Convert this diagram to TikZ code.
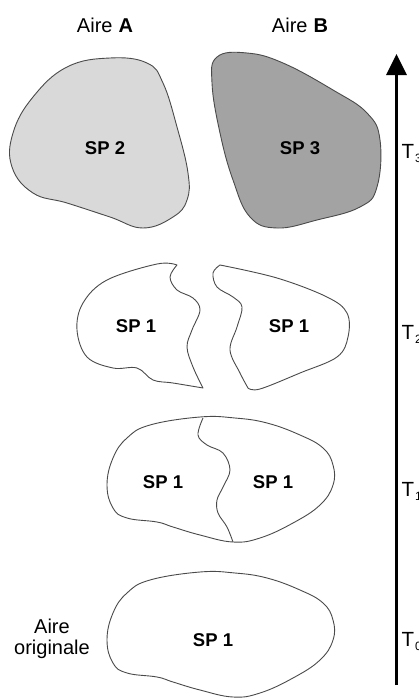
\documentclass[tikz,border=0pt]{standalone}
\usepackage{fontspec}
\setmainfont{Liberation Sans}
\usetikzlibrary{arrows.meta}
\definecolor{lightfill}{HTML}{D9D9D9}
\definecolor{darkfill}{HTML}{A3A3A3}
\definecolor{outline}{HTML}{4A4A4A}
\tikzset{
  blob/.style={draw=outline, line width=0.9pt, line join=round},
  lbl/.style={font=\fontsize{20}{23}\selectfont, inner sep=0pt},
  splbl/.style={font=\fontsize{18.5}{22}\selectfont\bfseries, inner sep=0pt},
  tlbl/.style={font=\fontsize{20.5}{23}\selectfont, inner sep=0pt, anchor=base west},
  axis/.style={line width=3pt, -{Triangle[width=20pt,length=21pt]}}
}
\newcommand{\tsub}[1]{\kern1pt\raisebox{-4pt}{\fontsize{12}{14}\selectfont #1}}
\begin{document}
\begin{tikzpicture}[x=1pt,y=-1pt]
\useasboundingbox (0,0) rectangle (419,699);
\clip (0,0) rectangle (419,699);
\fill[white] (0,0) rectangle (419,699);

% headers
\node[lbl] (hA) at (105,25) {Aire\kern6pt\textbf{A}};
\node[lbl] (hB) at (300,25) {Aire\kern6pt\textbf{B}};

% T3 blobs
\draw[blob, fill=lightfill] plot[smooth cycle, tension=0.7] coordinates {
 (110,58) (147,63) (163,83) (177,127) (188,173) (187,200) (173,217)
 (143,228) (110,217) (67,203) (33,193) (12,167) (13,133) (33,97) (67,67)};
\draw[blob, fill=darkfill] plot[smooth cycle, tension=0.7] coordinates {
 (217,57) (247,53) (283,63) (333,90) (367,113) (380,140) (377,187)
 (360,207) (317,220) (277,228) (250,217) (233,180) (220,133) (212,83)};
\node[splbl] (sp2) at (105,148) {SP 2};
\node[splbl] (sp3) at (300,148) {SP 3};

% T2 pieces
\draw[blob] plot[smooth, tension=0.6] coordinates {
 (177,265) (157,264) (107,280) (83,303) (77,330) (87,357) (113,368)
 (137,368) (153,380) (173,383) (203,388)}
 -- plot[smooth, tension=0.6] coordinates {
 (203,388) (193,367) (187,347) (192,330) (200,310) (193,298) (177,290)
 (170,277) (177,265)} -- cycle;
\draw[blob] plot[smooth, tension=0.6] coordinates {
 (220,265) (277,278) (327,297) (347,313) (348,337) (337,357) (300,373)
 (260,389) (248,388)}
 -- plot[smooth, tension=0.6] coordinates {
 (248,388) (240,373) (230,350) (237,327) (242,307) (233,297) (217,287)
 (213,273) (220,265)} -- cycle;
\node[splbl] (sp1a) at (136,326) {SP 1};
\node[splbl] (sp1b) at (289,326) {SP 1};

% T1 blob (original shape shifted up) with dividing line
\begin{scope}[yshift=155pt]
\draw[blob] plot[smooth cycle, tension=0.7] coordinates {
 (200,572) (235,573) (267,578) (300,590) (323,603) (333,620) (333,640)
 (320,660) (293,678) (260,693) (233,697) (200,690) (173,682) (157,677)
 (127,673) (113,663) (107,640) (113,613) (127,593) (150,580)};
\end{scope}
\draw[blob] plot[smooth, tension=0.6] coordinates {
 (203,418) (198,435) (207,445) (223,453) (230,470) (223,487) (217,500)
 (218,513) (227,527) (233,542)};
\node[splbl] (sp1c) at (163,482) {SP 1};
\node[splbl] (sp1d) at (273,482) {SP 1};

% T0 blob
\draw[blob] plot[smooth cycle, tension=0.7] coordinates {
 (200,572) (235,573) (267,578) (300,590) (323,603) (333,620) (333,640)
 (320,660) (293,678) (260,693) (233,697) (200,690) (173,682) (157,677)
 (127,673) (113,663) (107,640) (113,613) (127,593) (150,580)};
\node[splbl] (sp1e) at (213,640) {SP 1};
\node[lbl, align=center] (orig) at (52,639) {Aire\\[-2pt]originale};

% time axis
\coordinate (axbot) at (396.5,685);
\coordinate (axtop) at (396.5,54);
\draw[axis] (axbot) -- (axtop);
\node[tlbl] (t3) at (401.5,158) {T\tsub{3}};
\node[tlbl] (t2) at (401.5,339) {T\tsub{2}};
\node[tlbl] (t1) at (401.5,496) {T\tsub{1}};
\node[tlbl] (t0) at (401.5,646) {T\tsub{0}};
\end{tikzpicture}
\end{document}
